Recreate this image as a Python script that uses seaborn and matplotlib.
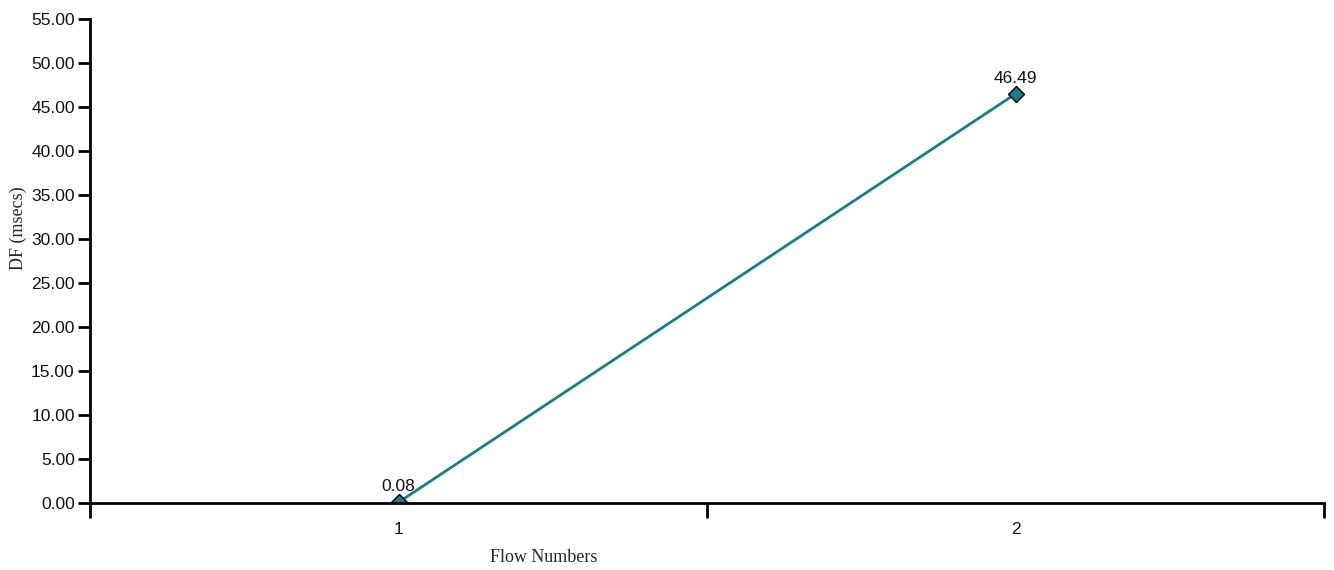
import matplotlib
matplotlib.use("Agg")
import matplotlib.pyplot as plt
import seaborn as sns
import numpy as np
import pandas as pd
from matplotlib.ticker import FixedLocator, FormatStrFormatter

flows = ["1", "2"]
df_values = [0.08, 46.49]
y_ticks = [0, 5, 10, 15, 20, 25, 30, 35, 40, 45, 50, 55]

sns.set_theme(style="white")
plt.rcParams["font.family"] = ["Liberation Sans", "DejaVu Sans"]

W, H = 1334, 570
fig = plt.figure(figsize=(W / 100, H / 100), dpi=100)
ax = fig.add_axes([90 / W, 1 - 503 / H, (1324 - 90) / W, (503 - 19) / H])

data = pd.DataFrame({"pos": np.arange(len(flows)) + 0.5, "val": df_values})
color = "#16808a"
sns.lineplot(data=data, x="pos", y="val", ax=ax, color=color, linewidth=2,
             marker="D", markersize=8, markeredgecolor="black",
             markeredgewidth=1, markerfacecolor=color)

for p, v in zip(data["pos"], data["val"]):
    ax.annotate(f"{v:.2f}", (p, v), xytext=(0, 6), textcoords="offset points",
                ha="center", va="bottom", fontsize=12.5, color="#111111")

ax.set_xlim(0, len(flows))
ax.set_ylim(0, 55)
ax.set_yticks(y_ticks)
ax.yaxis.set_major_formatter(FormatStrFormatter("%.2f"))
ax.set_xticks(np.arange(len(flows) + 1))
ax.set_xticklabels([])
ax.xaxis.set_minor_locator(FixedLocator(np.arange(len(flows)) + 0.5))
ax.set_xticklabels(flows, minor=True)

ax.tick_params(axis="y", which="major", direction="out", length=9, width=2,
               color="black", labelsize=12.5, pad=2, left=True,
               labelcolor="#111111")
ax.tick_params(axis="x", which="major", direction="out", length=11, width=2,
               color="black", bottom=True)
ax.tick_params(axis="x", which="minor", length=0, labelsize=12.5, pad=14,
               bottom=True, labelcolor="#111111")

for s in ["top", "right"]:
    ax.spines[s].set_visible(False)
for s in ["left", "bottom"]:
    ax.spines[s].set_color("black")
    ax.spines[s].set_linewidth(2)

ax.set_xlabel("")
ax.set_ylabel("")
fig.text(544 / W, 1 - 558 / H, "Flow Numbers", ha="center", va="center",
         fontsize=13, family=["Liberation Serif", "DejaVu Serif"])
fig.text(18 / W, 1 - 228 / H, "DF (msecs)", ha="center", va="center",
         rotation=90, fontsize=13, family=["Liberation Serif", "DejaVu Serif"])

ax.set_facecolor("white")
fig.patch.set_facecolor("white")
fig.savefig("out.png", dpi=100)
